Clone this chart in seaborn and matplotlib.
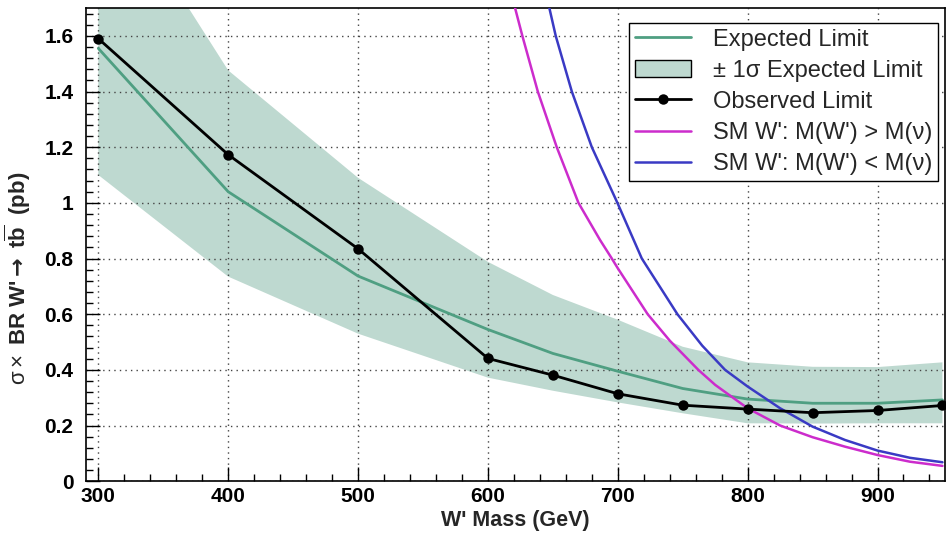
import numpy as np
import pandas as pd
import matplotlib
matplotlib.use("Agg")
import matplotlib.pyplot as plt
import seaborn as sns
from matplotlib.ticker import MultipleLocator
from matplotlib.lines import Line2D
from matplotlib.patches import Patch

# ---- data ----
mass = [300, 400, 500, 600, 650, 700, 750, 800, 850, 900, 950]
observed = [1.59, 1.173, 0.835, 0.441, 0.381, 0.314, 0.273, 0.259, 0.246, 0.254, 0.272]
expected = [1.555, 1.04, 0.737, 0.545, 0.459, 0.395, 0.333, 0.295, 0.28, 0.28, 0.292]
band_lo = [1.10, 0.735, 0.53, 0.372, 0.325, 0.283, 0.244, 0.208, 0.207, 0.208, 0.208]
band_hi = [2.21, 1.476, 1.09, 0.788, 0.669, 0.58, 0.483, 0.427, 0.411, 0.41, 0.427]

mass_gt = [620.9, 626.5, 638.4, 653, 669.7, 686.4, 695.4, 700, 723, 740, 762, 775,
           800, 825, 850, 875, 900, 925, 950]
sm_gt = [1.7, 1.6, 1.4, 1.2, 1.0, 0.866, 0.8, 0.765, 0.6, 0.505, 0.4, 0.346,
         0.262, 0.2, 0.158, 0.124, 0.094, 0.070, 0.055]
mass_lt = [647.3, 652.2, 664.6, 680, 699.7, 718.5, 745.9, 765, 782.6,
           800, 825, 850, 875, 900, 925, 950]
sm_lt = [1.7, 1.6, 1.4, 1.2, 1.0, 0.8, 0.6, 0.487, 0.4,
         0.34, 0.262, 0.196, 0.148, 0.11, 0.084, 0.068]

labels = ["Expected Limit", "\u00b1 1\u03c3 Expected Limit", "Observed Limit",
          "SM W': M(W') > M(\u03bd)", "SM W': M(W') < M(\u03bd)"]

c_exp = "#4f9f82"
c_band = "#bed9d0"
c_gt = "#cc2ccc"
c_lt = "#3a3ac4"

sns.set_style("ticks")
plt.rcParams["font.family"] = ["Liberation Sans", "DejaVu Sans"]
plt.rcParams["mathtext.fontset"] = "custom"
plt.rcParams["mathtext.rm"] = "Liberation Sans"
plt.rcParams["mathtext.it"] = "Liberation Sans:italic"
plt.rcParams["mathtext.bf"] = "Liberation Sans:bold"
plt.rcParams["mathtext.sf"] = "DejaVu Sans:bold"

fig = plt.figure(figsize=(9.46, 5.33), dpi=100)
ax = fig.add_axes([0.0909, 0.0972, 0.999 - 0.0909, 0.985 - 0.0972])

df = pd.DataFrame({"mass": mass, "observed": observed, "expected": expected,
                   "lo": band_lo, "hi": band_hi})

ax.fill_between(df["mass"], df["lo"], df["hi"], color=c_band, lw=0, zorder=1)
sns.lineplot(data=df, x="mass", y="expected", ax=ax, color=c_exp, lw=2.0, zorder=3)
sns.lineplot(x=mass_gt, y=sm_gt, ax=ax, color=c_gt, lw=1.8, zorder=3)
sns.lineplot(x=mass_lt, y=sm_lt, ax=ax, color=c_lt, lw=1.8, zorder=3)
sns.lineplot(data=df, x="mass", y="observed", ax=ax, color="black", lw=2.0,
             marker="o", markersize=7.5, markeredgewidth=0, zorder=4)

ax.set_xlim(290.5, 952)
ax.set_ylim(0, 1.7)
ax.xaxis.set_minor_locator(MultipleLocator(20))
ax.yaxis.set_minor_locator(MultipleLocator(0.04))
ax.set_xticks([300, 400, 500, 600, 700, 800, 900])
ax.set_xticklabels(["300", "400", "500", "600", "700", "800", "900"])
ax.set_yticks([0, 0.2, 0.4, 0.6, 0.8, 1.0, 1.2, 1.4, 1.6])
ax.set_yticklabels(["0", "0.2", "0.4", "0.6", "0.8", "1", "1.2", "1.4", "1.6"])

ax.grid(True, which="major", color="#444444", linestyle=(0, (1, 3)), lw=1.0)
ax.set_axisbelow("line")

ax.tick_params(which="both", direction="in", top=False, right=False, width=1.0,
               colors="black")
ax.tick_params(which="major", length=10, labelsize=15)
ax.tick_params(which="minor", length=5)
ax.tick_params(axis="y", which="major", pad=9)
ax.tick_params(axis="x", which="major", pad=4)
for lab in ax.get_xticklabels() + ax.get_yticklabels():
    lab.set_fontweight("bold")
for s in ax.spines.values():
    s.set_color("black")
    s.set_linewidth(1.2)
    s.set_visible(True)

ax.set_xlabel("W' Mass (GeV)", fontsize=15.5, fontweight="bold", labelpad=3)
ax.set_ylabel(r"$\mathrm{\sigma\times}$ BR W'$\mathsf{\rightarrow}$ t$\overline{\mathbf{b}}$  (pb)",
              fontsize=16, fontweight="bold")
ax.yaxis.set_label_coords(-0.062, 0.428)

handles = [
    Line2D([], [], color=c_exp, lw=2.0),
    Patch(facecolor=c_band, edgecolor="black", lw=1.0),
    Line2D([], [], color="black", lw=2.0, marker="o", markersize=7.5, markeredgewidth=0),
    Line2D([], [], color=c_gt, lw=1.8),
    Line2D([], [], color=c_lt, lw=1.8),
]
leg = ax.legend(handles, labels, loc="upper left", bbox_to_anchor=(0.632, 0.969),
                borderaxespad=0, fontsize=17, frameon=True, fancybox=False,
                framealpha=1, edgecolor="black", handlelength=2.4,
                handletextpad=0.9, labelspacing=0.385, borderpad=0.25)
leg.get_frame().set_linewidth(1.0)

fig.savefig("out.png", dpi=100)
